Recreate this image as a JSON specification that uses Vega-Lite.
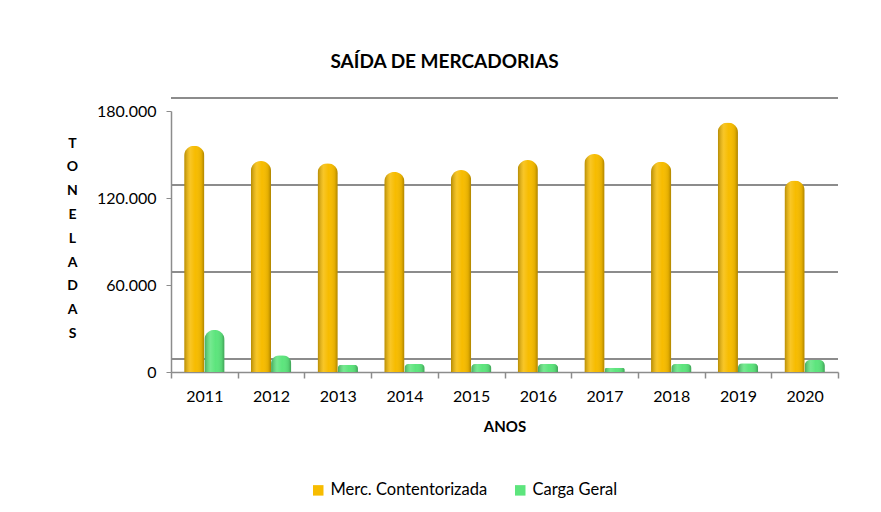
{
  "$schema": "https://vega.github.io/schema/vega-lite/v6.json",
  "width": 667,
  "height": 261,
  "autosize": {"type": "none"},
  "padding": {"left": 171, "top": 111, "right": 43, "bottom": 140},
  "background": "white",
  "config": {"font": "Lato", "view": {"stroke": null}},
  "title": {"text": "SAÍDA DE MERCADORIAS", "fontSize": 19, "fontWeight": "bold", "anchor": "middle", "frame": "group", "dx": -60, "offset": 25, "color": "#000000"},
  "datasets": {
    "grade": [{"v": 0}, {"v": 60000}, {"v": 120000}, {"v": 180000}],
    "saida": [
      {"ano": "2011", "serie": "Merc. Contentorizada", "t": 156000},
      {"ano": "2012", "serie": "Merc. Contentorizada", "t": 145500},
      {"ano": "2013", "serie": "Merc. Contentorizada", "t": 144000},
      {"ano": "2014", "serie": "Merc. Contentorizada", "t": 138000},
      {"ano": "2015", "serie": "Merc. Contentorizada", "t": 139300},
      {"ano": "2016", "serie": "Merc. Contentorizada", "t": 146200},
      {"ano": "2017", "serie": "Merc. Contentorizada", "t": 150300},
      {"ano": "2018", "serie": "Merc. Contentorizada", "t": 145000},
      {"ano": "2019", "serie": "Merc. Contentorizada", "t": 172000},
      {"ano": "2020", "serie": "Merc. Contentorizada", "t": 132000},
      {"ano": "2011", "serie": "Carga Geral", "t": 29000},
      {"ano": "2012", "serie": "Carga Geral", "t": 11500},
      {"ano": "2013", "serie": "Carga Geral", "t": 5000},
      {"ano": "2014", "serie": "Carga Geral", "t": 5500},
      {"ano": "2015", "serie": "Carga Geral", "t": 5500},
      {"ano": "2016", "serie": "Carga Geral", "t": 5500},
      {"ano": "2017", "serie": "Carga Geral", "t": 3000},
      {"ano": "2018", "serie": "Carga Geral", "t": 5500},
      {"ano": "2019", "serie": "Carga Geral", "t": 6000},
      {"ano": "2020", "serie": "Carga Geral", "t": 8500}
    ]
  },
  "layer": [
    {
      "data": {"name": "grade"},
      "mark": {"type": "rule", "color": "#8c8c8c", "strokeWidth": 2},
      "encoding": {
        "y": {"field": "v", "type": "quantitative", "scale": {"domain": [-9000, 171000]}, "axis": null}
      }
    },
    {
      "data": {"name": "saida"},
      "encoding": {
        "x": {
          "field": "ano", "type": "nominal",
          "scale": {"paddingInner": 0, "paddingOuter": 0},
          "axis": {"title": "ANOS", "labelAngle": 0, "tickBand": "extent", "domainColor": "#8c8c8c", "domainWidth": 1.5, "tickColor": "#8c8c8c", "tickWidth": 1.5, "tickSize": 6, "labelPadding": 10, "labelFontSize": 16, "labelColor": "#000000", "titleFontSize": 15, "titleFontWeight": "bold", "titleColor": "#000000", "titlePadding": 15, "grid": false}
        },
        "xOffset": {"field": "serie", "type": "nominal", "scale": {"domain": ["Merc. Contentorizada", "Carga Geral"], "paddingInner": 0, "paddingOuter": 0.65}},
        "y": {
          "field": "t", "type": "quantitative",
          "scale": {"domain": [0, 180000]},
          "axis": {"orient": "left", "title": ["T", "O", "N", "E", "L", "A", "D", "A", "S"], "titleAngle": 0, "titleX": -99, "titleY": 25, "titleBaseline": "top", "titleAlign": "center", "titleFontSize": 14, "titleFontWeight": "bold", "titleColor": "#000000", "titleLineHeight": 23.8, "values": [0, 60000, 120000, 180000], "labelExpr": "replace(format(datum.value, ',.0f'), ',', '.')", "labelFontSize": 16, "labelColor": "#000000", "tickSize": 5, "tickColor": "#8c8c8c", "domainColor": "#8c8c8c", "domainWidth": 1.5, "labelPadding": 10, "grid": false}
        }
      },
      "layer": [
        {
          "mark": {"type": "bar", "cornerRadiusTopLeft": 10, "cornerRadiusTopRight": 10},
          "encoding": {
            "color": {
              "field": "serie", "type": "nominal",
              "scale": {"domain": ["Merc. Contentorizada", "Carga Geral"], "range": ["#F7BC00", "#5DE57D"]},
              "legend": {"orient": "none", "legendX": 139, "legendY": 371, "direction": "horizontal", "title": null, "symbolType": "square", "symbolSize": 110, "labelFontSize": 16.5, "labelColor": "#000000", "columnPadding": 24, "symbolStrokeWidth": 0}
            }
          }
        },
        {
          "mark": {
            "type": "bar", "cornerRadiusTopLeft": 10, "cornerRadiusTopRight": 10,
            "fill": {"gradient": "linear", "x1": 0, "x2": 1, "y1": 0, "y2": 0, "stops": [
              {"offset": 0, "color": "rgba(0,0,0,0.28)"},
              {"offset": 0.3, "color": "rgba(255,255,255,0.15)"},
              {"offset": 0.55, "color": "rgba(255,255,255,0)"},
              {"offset": 0.85, "color": "rgba(0,0,0,0.08)"},
              {"offset": 1, "color": "rgba(0,0,0,0.3)"}
            ]}
          }
        }
      ]
    }
  ],
  "resolve": {"scale": {"y": "independent"}}
}
